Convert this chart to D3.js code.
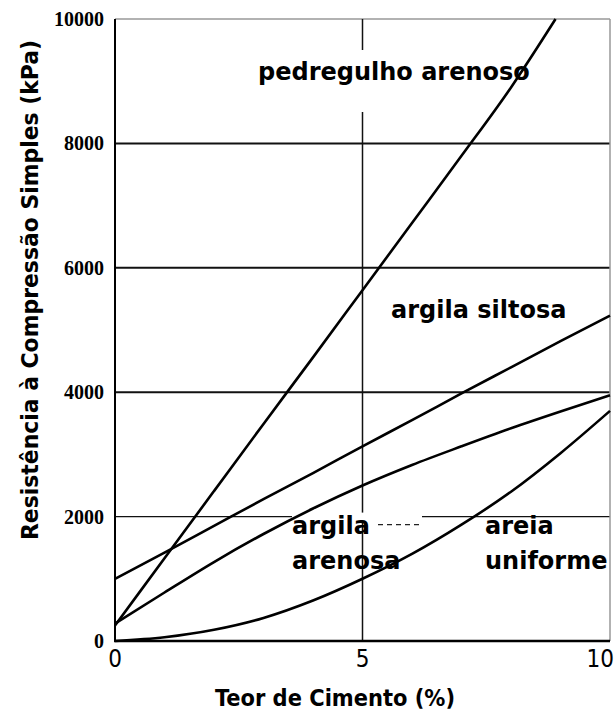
<!DOCTYPE html>
<html>
<head>
<meta charset="utf-8">
<style>
  body { margin: 0; background: #fff; }
  .tick-y { font: bold 20px "Liberation Serif", serif; }
  .tick-x { font: 24px "Liberation Sans Narrow", "DejaVu Sans Condensed", sans-serif; font-stretch: condensed; }
  .axis-title { font: bold 23px "Liberation Sans Narrow", "DejaVu Sans Condensed", sans-serif; font-stretch: condensed; }
  .label { font: bold 24px "DejaVu Sans", sans-serif; }
</style>
</head>
<body>
<div id="chart"></div>
<script src="https://d3js.org/d3.v7.min.js"></script>
<script>
  // teor de cimento (%)
  const cimento = [0, 1, 2, 3, 4, 5, 6, 7, 8, 9, 10];
  const cimentoPedregulho = [0, 1, 2, 3, 4, 5, 6, 7, 8, 8.9];

  // resistencia (kPa)
  const pedregulhoArenoso = [250, 1330, 2410, 3490, 4560, 5640, 6720, 7800, 8900, 10000];
  const argilaSiltosa = [1000, 1420, 1850, 2280, 2700, 3130, 3550, 3980, 4400, 4820, 5230];
  const argilaArenosa = [280, 780, 1270, 1720, 2130, 2500, 2830, 3130, 3420, 3690, 3950];
  const areiaUniforme = [0, 60, 180, 370, 650, 1000, 1400, 1870, 2400, 3020, 3700];

  const yTicks = [0, 2000, 4000, 6000, 8000, 10000];
  const xTicks = [0, 5, 10];
  const xTickLabels = ["0", "5", "10"];

  const width = 616, height = 711;

  const svg = d3.select("#chart")
    .append("svg")
    .attr("width", width)
    .attr("height", height);

  const x = d3.scaleLinear().domain([0, 10]).range([115, 610]);
  const y = d3.scaleLinear().domain([0, 10000]).range([641, 19]);

  // grid lines
  svg.append("g")
    .selectAll("line")
    .data(yTicks.filter(d => d > 0 && d < 10000))
    .enter().append("line")
    .attr("x1", x(0)).attr("x2", x(10))
    .attr("y1", d => y(d)).attr("y2", d => y(d))
    .attr("stroke", "#111")
    .attr("stroke-width", d => d == 2000 ? 1.3 : 2);

  // top border (10000) and right border, light
  svg.append("line")
    .attr("x1", x(0)).attr("x2", x(10))
    .attr("y1", y(10000)).attr("y2", y(10000))
    .attr("stroke", "#999").attr("stroke-width", 1.5);
  svg.append("line")
    .attr("x1", x(10)).attr("x2", x(10))
    .attr("y1", y(10000)).attr("y2", y(0))
    .attr("stroke", "#999").attr("stroke-width", 1.5);

  // vertical line at 5 %
  svg.append("line")
    .attr("x1", x(5)).attr("x2", x(5))
    .attr("y1", y(10000)).attr("y2", y(0))
    .attr("stroke", "#111").attr("stroke-width", 1.5);

  // white patches where the labels were pasted over the grid
  svg.append("rect")
    .attr("x", 255).attr("y", 50).attr("width", 295).attr("height", 62)
    .attr("fill", "#fff");
  svg.append("rect")
    .attr("x", 292).attr("y", y(2000) - 4).attr("width", 130).attr("height", 8)
    .attr("fill", "#fff");
  svg.append("line")
    .attr("x1", 378).attr("x2", 422)
    .attr("y1", y(2000) + 8).attr("y2", y(2000) + 8)
    .attr("stroke", "#222").attr("stroke-width", 1.2)
    .attr("stroke-dasharray", "5,4");

  // curves
  const line = d3.line()
    .x(d => x(d[0]))
    .y(d => y(d[1]))
    .curve(d3.curveMonotoneX);

  const series = [
    d3.zip(cimentoPedregulho, pedregulhoArenoso),
    d3.zip(cimento, argilaSiltosa),
    d3.zip(cimento, argilaArenosa),
    d3.zip(cimento, areiaUniforme)
  ];

  svg.append("g")
    .selectAll("path")
    .data(series)
    .enter().append("path")
    .attr("d", line)
    .attr("fill", "none")
    .attr("stroke", "#000")
    .attr("stroke-width", 2.6);

  // axes
  svg.append("line")
    .attr("x1", x(0)).attr("x2", x(0))
    .attr("y1", y(10000)).attr("y2", y(0) + 1)
    .attr("stroke", "#000").attr("stroke-width", 2);
  svg.append("line")
    .attr("x1", x(0) - 1).attr("x2", x(10))
    .attr("y1", y(0)).attr("y2", y(0))
    .attr("stroke", "#000").attr("stroke-width", 2.6);

  svg.append("g")
    .selectAll("text")
    .data(yTicks)
    .enter().append("text")
    .attr("class", "tick-y")
    .attr("x", 104)
    .attr("y", d => y(d))
    .attr("dy", "0.35em")
    .attr("text-anchor", "end")
    .text(d => d);

  svg.append("g")
    .selectAll("text")
    .data(xTicks)
    .enter().append("text")
    .attr("class", "tick-x")
    .attr("x", (d, i) => i == 2 ? 614 : x(d))
    .attr("y", 667)
    .attr("text-anchor", (d, i) => i == 2 ? "end" : "middle")
    .text((d, i) => xTickLabels[i]);

  svg.append("text")
    .attr("class", "axis-title")
    .attr("x", 335)
    .attr("y", 706)
    .attr("text-anchor", "middle")
    .attr("textLength", 240)
    .attr("lengthAdjust", "spacingAndGlyphs")
    .text("Teor de Cimento (%)");

  svg.append("text")
    .attr("class", "axis-title")
    .attr("transform", "translate(38,290) rotate(-90)")
    .attr("text-anchor", "middle")
    .attr("textLength", 500)
    .attr("lengthAdjust", "spacingAndGlyphs")
    .text("Resistência à Compressão Simples (kPa)");

  // curve labels
  const labels = [
    { t: "pedregulho arenoso", x: 258, y: 80 },
    { t: "argila siltosa", x: 391, y: 318 },
    { t: "argila", x: 292, y: 534 },
    { t: "arenosa", x: 292, y: 569 },
    { t: "areia", x: 485, y: 534 },
    { t: "uniforme", x: 485, y: 569 }
  ];

  svg.append("g")
    .selectAll("text")
    .data(labels)
    .enter().append("text")
    .attr("class", "label")
    .attr("x", d => d.x)
    .attr("y", d => d.y)
    .text(d => d.t);
</script>
</body>
</html>
